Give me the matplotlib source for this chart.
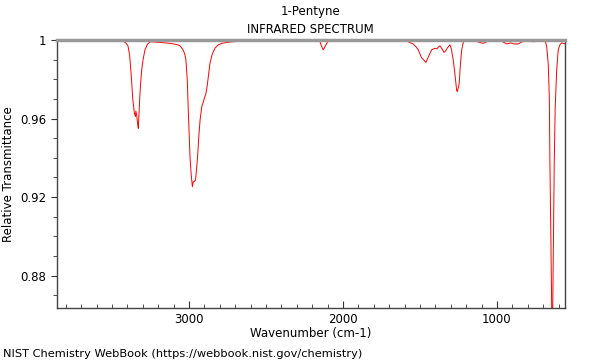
import matplotlib
matplotlib.use("Agg")
import matplotlib.pyplot as plt
from matplotlib.ticker import MultipleLocator, FuncFormatter

# IR spectrum of 1-pentyne (wavenumber in cm-1, transmittance)
WAVENUMBER = [3857, 3700, 3600, 3500, 3430, 3410, 3396, 3385, 3375, 3365, 3355, 3348,
              3345, 3340, 3333, 3329, 3325, 3318, 3312, 3307, 3298, 3286, 3270, 3253,
              3230, 3200, 3150, 3100, 3071, 3055, 3039, 3028, 3020, 3011, 3004, 2993,
              2985, 2978, 2972, 2965, 2957, 2950, 2944, 2936, 2928, 2917, 2905, 2890,
              2881, 2872, 2864, 2850, 2831, 2810, 2788, 2750, 2714, 2625, 2500, 2300,
              2170, 2150, 2140, 2128, 2118, 2100, 2084, 2000, 1800, 1650, 1580, 1545,
              1525, 1511, 1490, 1461, 1445, 1424, 1410, 1402, 1390, 1380, 1370, 1357,
              1344, 1333, 1323, 1312, 1305, 1296, 1284, 1272, 1262, 1258, 1250, 1245,
              1237, 1229, 1218, 1208, 1150, 1120, 1100, 1089, 1070, 1056, 1000, 981,
              960, 937, 910, 890, 861, 840, 807, 785, 764, 730, 699, 685, 677, 667,
              660, 656, 650, 641, 633, 628, 622, 612, 602, 591, 580, 558]
TRANSMITTANCE = [0.9997, 0.9998, 0.9998, 0.9998, 0.9995, 0.9985, 0.997, 0.992, 0.982, 0.970, 0.963, 0.961,
                 0.9638, 0.962, 0.957, 0.955, 0.962, 0.973, 0.980, 0.9847, 0.990, 0.9949, 0.9978, 0.9991,
                 0.9990, 0.9988, 0.9985, 0.998, 0.9975, 0.9968, 0.995, 0.993, 0.990, 0.9796, 0.963, 0.940,
                 0.931, 0.9253, 0.9278, 0.928, 0.9287, 0.935, 0.9405, 0.951, 0.9592, 0.966, 0.969, 0.9728,
                 0.977, 0.983, 0.988, 0.9925, 0.9959, 0.9975, 0.9983, 0.9988, 0.9991, 0.9996, 0.9997, 0.9998,
                 0.9997, 0.9992, 0.997, 0.995, 0.9965, 0.9990, 0.9996, 0.9998, 0.9998, 0.9997, 0.9992, 0.998,
                 0.9965, 0.995, 0.991, 0.9886, 0.9915, 0.995, 0.9955, 0.9958, 0.9955, 0.9965, 0.997, 0.9955,
                 0.9937, 0.9945, 0.9958, 0.997, 0.9975, 0.9955, 0.9898, 0.982, 0.9745, 0.9737, 0.976, 0.978,
                 0.988, 0.995, 0.999, 0.9996, 0.9994, 0.999, 0.9985, 0.9983, 0.999, 0.9995, 0.9996, 0.9995,
                 0.999, 0.998, 0.9985, 0.998, 0.998, 0.999, 0.9995, 0.9993, 0.9991, 0.9994, 0.9995, 0.999, 0.9966, 0.988,
                 0.971, 0.937, 0.90, 0.84, 0.90, 0.937, 0.965, 0.985, 0.995, 0.9975, 0.9986, 0.998]

fig = plt.figure(figsize=(6, 3.6), dpi=100)
ax = fig.add_axes([0.095, 0.1444, 0.8467, 0.7445])
ax.plot(WAVENUMBER, TRANSMITTANCE, color="red", lw=0.7)

ax.set_xlim(3857, 558)
ax.set_ylim(0.8635, 1.0)
ax.xaxis.set_major_locator(MultipleLocator(1000))
ax.xaxis.set_minor_locator(MultipleLocator(100))
ax.yaxis.set_major_locator(MultipleLocator(0.04))
ax.yaxis.set_minor_locator(MultipleLocator(0.01))
ax.yaxis.set_major_formatter(FuncFormatter(lambda v, p: f"{v:g}"))
ax.tick_params(axis="x", which="both", direction="in", top=False, labelsize=8.5, colors="#333", labelcolor="black")
ax.tick_params(axis="x", which="major", length=5)
ax.tick_params(axis="x", which="minor", length=3)
ax.tick_params(axis="y", which="both", direction="out", right=False, labelsize=8.5, colors="#333", labelcolor="black")
ax.tick_params(axis="y", which="major", length=4)
ax.tick_params(axis="y", which="minor", length=3)

for s in ("left", "bottom", "right"):
    ax.spines[s].set_color("#444")
    ax.spines[s].set_linewidth(1)
ax.spines["top"].set_color("#999")
ax.spines["top"].set_linewidth(2.5)

ax.set_xlabel("Wavenumber (cm-1)", fontsize=8.5, labelpad=1)
ax.set_ylabel("Relative Transmittance", fontsize=8.5)
fig.text(0.518, 0.967, "1-Pentyne", ha="center", va="center", fontsize=8.5)
fig.text(0.518, 0.917, "INFRARED SPECTRUM", ha="center", va="center", fontsize=8.5)
fig.text(0.005, 0.003, "NIST Chemistry WebBook (https://webbook.nist.gov/chemistry)",
         ha="left", va="bottom", fontsize=8.2)

fig.savefig("out.png", dpi=100)
